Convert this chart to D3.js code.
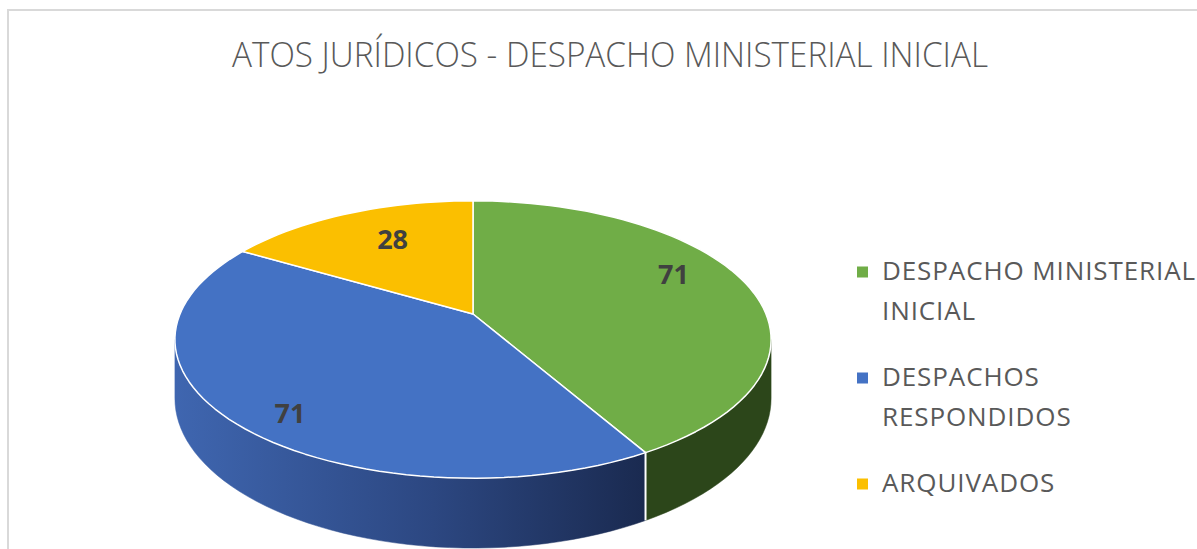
<!DOCTYPE html>
<html>
<head>
<meta charset="utf-8">
<script src="https://cdn.jsdelivr.net/npm/d3@7"></script>
<style>
  html, body { margin: 0; padding: 0; background: #fff; overflow: hidden; }
  svg { display: block; }
</style>
</head>
<body>
<script>
// chart data
const title = "ATOS JURÍDICOS - DESPACHO MINISTERIAL INICIAL";
const categories = ["DESPACHO MINISTERIAL INICIAL", "DESPACHOS RESPONDIDOS", "ARQUIVADOS"];
const legendLines = [["DESPACHO MINISTERIAL", "INICIAL"], ["DESPACHOS", "RESPONDIDOS"], ["ARQUIVADOS"]];
const values = [71, 71, 28];
const topColors = ["#70ad47", "#4472c4", "#fbbf00"];
const sideColors = ["#2c461a", "url(#blueSide)", "#9a7600"];

const W = 1197, H = 549;
const svg = d3.select("body").append("svg")
  .attr("width", W).attr("height", H);

const defs = svg.append("defs");
const grad = defs.append("linearGradient")
  .attr("id", "blueSide")
  .attr("gradientUnits", "userSpaceOnUse")
  .attr("x1", 175).attr("x2", 645).attr("y1", 0).attr("y2", 0);
grad.append("stop").attr("offset", "0%").attr("stop-color", "#3f66b0");
grad.append("stop").attr("offset", "55%").attr("stop-color", "#2c4781");
grad.append("stop").attr("offset", "100%").attr("stop-color", "#1a2a50");

// chart border (runs off the right / bottom)
svg.append("rect")
  .attr("x", 8).attr("y", 10).attr("width", W + 20).attr("height", H + 20)
  .attr("fill", "none").attr("stroke", "#d9d9d9").attr("stroke-width", 2);

svg.append("text")
  .attr("x", 610).attr("y", 67)
  .attr("text-anchor", "middle")
  .attr("font-family", "'Open Sans', sans-serif")
  .attr("font-weight", 300)
  .attr("font-size", 34)
  .attr("fill", "#595959")
  .attr("textLength", 756)
  .attr("lengthAdjust", "spacingAndGlyphs")
  .text(title);

// 3D pie projection: unit disc seen in perspective
const cx = 473, cy = 314, a = 293, b = 134, k = 0.184, depth = 57;
function proj(theta, r, dz) {
  const X = r * Math.sin(theta), Y = -r * Math.cos(theta);
  const w = 1 - k * Y;
  return [cx + a * X / w, cy + (b * Y + dz) / w];
}

const pie = d3.pie().sort(null).value(d => d)(values);
const line = d3.line().curve(d3.curveLinear);
const N = 160;
function arcPts(t0, t1, dz) {
  const n = Math.max(2, Math.ceil(N * (t1 - t0) / (2 * Math.PI)));
  return d3.range(n + 1).map(i => proj(t0 + (t1 - t0) * i / n, 1, dz));
}

// sides (front half only)
const ts = Math.acos(-k), te = 2 * Math.PI - ts;
const gSide = svg.append("g");
pie.forEach((p, i) => {
  const t0 = Math.max(p.startAngle, ts), t1 = Math.min(p.endAngle, te);
  if (t1 <= t0) return;
  const pts = arcPts(t0, t1, 0).concat(arcPts(t0, t1, depth).reverse());
  gSide.append("path")
    .attr("d", line(pts) + "Z")
    .attr("fill", sideColors[i])
    .attr("stroke", sideColors[i]).attr("stroke-width", 0.5);
});
// white edges between side pieces
pie.forEach(p => {
  const t = p.startAngle;
  if (t > ts && t < te) {
    gSide.append("path")
      .attr("d", line([proj(t, 1, 0), proj(t, 1, depth)]))
      .attr("stroke", "#fff").attr("stroke-width", 2);
  }
});

// top faces
const gTop = svg.append("g");
pie.forEach((p, i) => {
  const pts = [proj(0, 0, 0)].concat(arcPts(p.startAngle, p.endAngle, 0));
  gTop.append("path")
    .attr("d", line(pts) + "Z")
    .attr("fill", topColors[i])
    .attr("stroke", "#fff").attr("stroke-width", 1.5)
    .attr("stroke-linejoin", "round");
});

// data labels: [radius fraction, angle shift in degrees]
const labelPlace = [[0.79, -8.8], [0.85, -5.2], [0.70, 3.7]];
pie.forEach((p, i) => {
  const mid = (p.startAngle + p.endAngle) / 2 + labelPlace[i][1] * Math.PI / 180;
  const [x, y] = proj(mid, labelPlace[i][0], 0);
  svg.append("text")
    .attr("x", x).attr("y", y)
    .attr("text-anchor", "middle").attr("dominant-baseline", "central")
    .attr("font-family", "'Open Sans', sans-serif")
    .attr("font-weight", 700).attr("font-size", 27)
    .attr("fill", "#404040")
    .text(values[i]);
});

// legend
const lg = svg.append("g").attr("transform", "translate(857,0)");
const itemY = [272, 378, 484];
legendLines.forEach((lines, i) => {
  lg.append("rect")
    .attr("x", 0).attr("y", itemY[i] - 5.5)
    .attr("width", 11).attr("height", 11)
    .attr("fill", topColors[i]);
  lines.forEach((t, j) => {
    lg.append("text")
      .attr("x", 25).attr("y", itemY[i] + 8 + j * 40)
      .attr("font-family", "'Open Sans', sans-serif")
      .attr("font-size", 26)
      .attr("letter-spacing", 0.9)
      .attr("fill", "#595959")
      .text(t);
  });
});
</script>
</body>
</html>
